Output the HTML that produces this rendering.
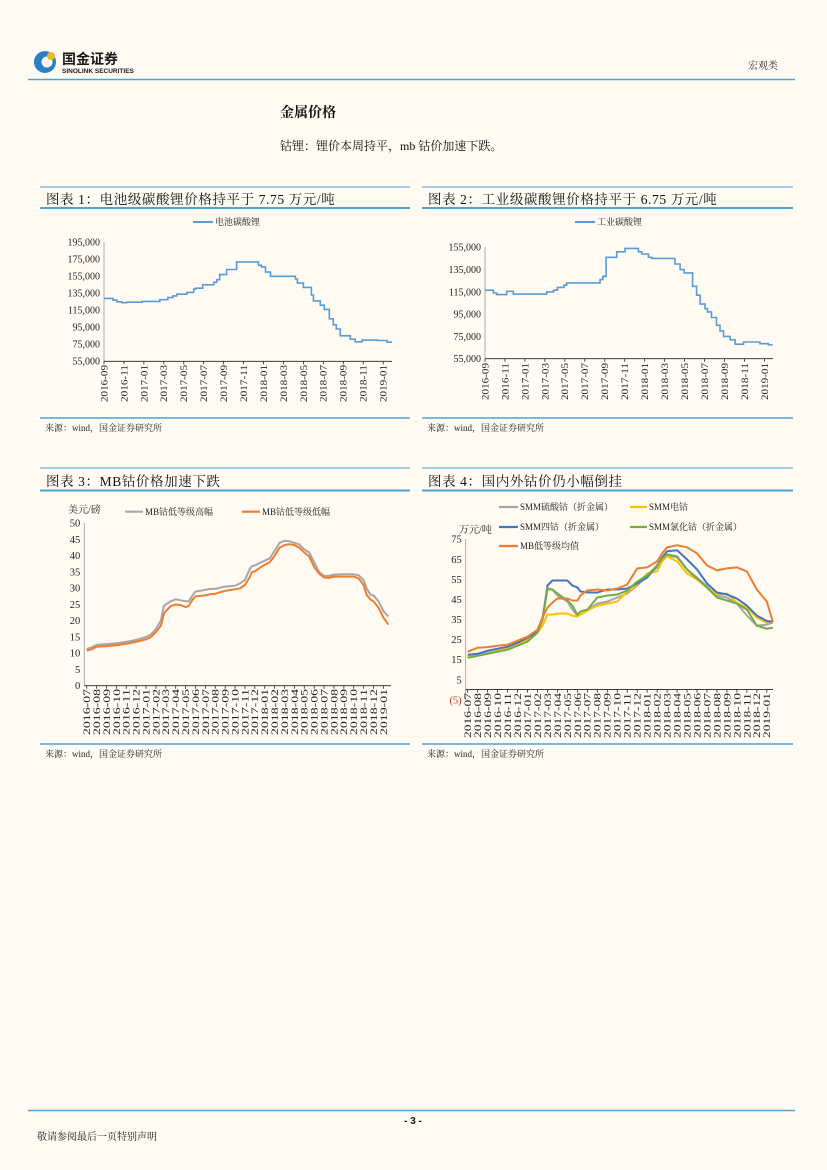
<!DOCTYPE html>
<html><head><meta charset="utf-8">
<style>
html,body{margin:0;padding:0;background:#fffbf2;}
svg{display:block;}
.cn{font-family:"Liberation Serif","Noto Serif CJK SC",serif;}
.sans{font-family:"Liberation Sans","Noto Sans CJK SC",sans-serif;}
</style></head>
<body>
<svg id="page" width="827" height="1170" viewBox="0 0 827 1170" xmlns="http://www.w3.org/2000/svg">
<rect x="0" y="0" width="827" height="1170" fill="#fffbf2"/>
<g>
  <g>
    <circle cx="45" cy="62" r="11" fill="#2b7fc4"/>
    <circle cx="47" cy="62" r="5.5" fill="#fffbf2"/>
    <circle cx="51" cy="56" r="4" fill="#f3b81c"/>
    <text x="62" y="64" class="sans" font-size="14" font-weight="bold" fill="#1a1a1a">国金证券</text>
    <text x="62" y="73" class="sans" font-size="6.5" font-weight="bold" fill="#1a1a1a">SINOLINK SECURITIES</text>
  </g>
  <text x="748" y="69" class="cn" font-size="10" fill="#333">宏观类</text>
  <line x1="28" y1="79.5" x2="795" y2="79.5" stroke="#4fa3d3" stroke-width="1.5"/>
</g>
<text x="280" y="117" class="cn" font-size="14" font-weight="bold" fill="#111">金属价格</text>
<text x="280" y="150" class="cn" font-size="12" fill="#111">钴锂：锂价本周持平，mb 钴价加速下跌。</text>

<g id="c1"></g>
<g id="c2"></g>
<g id="c3"></g>
<g id="c4"></g>

<g>
  <line x1="28" y1="1110.5" x2="795" y2="1110.5" stroke="#4fa3d3" stroke-width="1.5"/>
  <text x="413" y="1124" text-anchor="middle" class="sans" font-size="10" font-weight="bold" fill="#111">- 3 -</text>
  <text x="37" y="1140" class="cn" font-size="10" fill="#222">敬请参阅最后一页特别声明</text>
</g>
</svg>
<script>
// ---------- Chart 1 data (battery-grade lithium carbonate, step series; months since 2016-09) ----------
const c1StepMonths = [0,0.9,1.3,1.8,2.3,3.8,5.6,6.4,6.9,7.3,8.3,9,9.2,9.9,11,11.3,11.6,12.3,13.3,15.5,15.8,16.2,16.7,19.2,19.4,20,20.8,21,21.7,22.1,22.6,23,23.3,23.7,24.7,25.2,25.9,27.4,28.4];
const c1Values = [129,127,125,124,124.5,125.5,127.5,130,132,134,136,140,141,145,148,151,157,163,172,168,166,160,155,152,147,142,133,126,121,116,105,98,93,85,81,78,80,79.5,77.5];
const c1EndMonth = 28.9;
const c1YTicks = [55,75,95,115,135,155,175,195];
const c1XLabels = ["2016-09","2016-11","2017-01","2017-03","2017-05","2017-07","2017-09","2017-11","2018-01","2018-03","2018-05","2018-07","2018-09","2018-11","2019-01"];

// ---------- Chart 2 data (industrial-grade lithium carbonate) ----------
const c2StepMonths = [0,0.84,1.17,2.17,2.84,6.18,6.85,7.25,7.92,8.19,11.53,11.8,12.13,13.2,14.03,15.37,15.7,16.37,16.7,19.04,19.55,19.95,20.8,21.2,21.55,22.04,22.28,22.7,23.2,23.55,23.9,24.56,25.06,25.9,27.56,28.4];
const c2Values = [116.5,114,112.5,115.5,113,115,116.5,119,121,123,126,129,146,151,154,151,149,146,145,140,135,132,120,112,104,100,97,92,85,80,75,72,68,70,68.5,67.5];
const c2EndMonth = 28.83;
const c2YTicks = [55,75,95,115,135,155];
const c2XLabels = ["2016-09","2016-11","2017-01","2017-03","2017-05","2017-07","2017-09","2017-11","2018-01","2018-03","2018-05","2018-07","2018-09","2018-11","2019-01"];

// ---------- Chart 3 data (MB cobalt, USD/lb; months since 2016-07) ----------
const c3Months = [0,0.5,1,2,3,4,5,6,6.5,7,7.5,7.8,8,8.5,9,9.5,10,10.3,10.7,11,12,12.5,13,13.5,14,15,15.5,16,16.5,16.7,17,17.5,18,18.5,19,19.5,20,20.5,21,21.5,22,22.5,23,23.5,24,24.5,25,26,27,27.5,28,28.3,28.7,29,29.5,30,30.5];
const c3High = [11.3,11.8,12.6,12.8,13.1,13.5,14.1,15,15.8,17.5,20,24.5,25,26,26.6,26.3,26,26,27.8,29,29.5,29.8,29.8,30.2,30.5,30.8,31.5,32.5,36,36.8,37,37.8,38.5,39.2,41.5,44,44.6,44.5,44,43.5,42,41,38,35,33.8,33.8,34.2,34.3,34.3,34,32.5,30,28,27.8,26,23,21.3];
const c3Low = [10.8,11.2,12,12.2,12.5,12.9,13.5,14.3,15,16.5,18.5,22,23,24.5,25,24.8,24.2,24.5,26.5,27.5,27.8,28.2,28.3,28.8,29.2,29.7,30,31,33.5,35,35.2,36.3,37.2,38,40,42.5,43.3,43.6,43.3,42.5,41,39.8,36.5,34.5,33.3,33.2,33.6,33.6,33.6,33,31,28,26.5,26,24,21,18.8];
const c3YTicks = [0,5,10,15,20,25,30,35,40,45,50];
const c3XLabels = ["2016-07","2016-08","2016-09","2016-10","2016-11","2016-12","2017-01","2017-02","2017-03","2017-04","2017-05","2017-06","2017-07","2017-08","2017-09","2017-10","2017-11","2017-12","2018-01","2018-02","2018-03","2018-04","2018-05","2018-06","2018-07","2018-08","2018-09","2018-10","2018-11","2018-12","2019-01"];

// ---------- Chart 4 data (10k CNY/t; months since 2016-07) ----------
const c4Months = [0,1,2,3,4,5,6,7,7.5,8,8.5,9,10,10.5,11,11.3,12,13,14,15,16,17,18,19,19.5,20,21,22,23,24,25,26,27,28,29,30,30.6];
const c4Sulfate = [16.5,17.5,18.5,19.5,20.5,22,24.5,29,36,50,50,47,44,40,37,39,40,43,44,46,48,52,57,61,64,67,66,60,56,51.5,47,46,43,37,32,32.5,33.5];
const c4Electro = [16.5,17,18,19.5,20.5,22.5,25,28.5,32,37.5,37.5,38,38,37,36.5,37.5,39.5,42,43,44,49,52.5,58,59,64,66.5,64,58,55,51,47.5,48,43.5,41,36,33.5,34];
const c4Tetroxide = [17.5,18,19.5,20.5,21.5,23.5,26,29,35,52,54.5,54.5,54.5,52,51,49,48.5,48.5,50,50,50.5,53,56,62,66,69,69.5,65,60,53,48.5,47.5,45.5,42,37,34.3,34];
const c4Chloride = [16,17,18,19,20,22,24,28.5,35,50.5,50,48,44.5,42,37.5,39,40,46,47,47.5,49.5,54,57,62,65.5,67.5,66.5,60,55.5,51,46,44.5,43,40,32,30.5,31];
const c4MbAvg = [19,21,21.3,22,22.5,24.5,26.5,30,36,41,43.5,45.5,45.5,44.5,44.5,47,49.5,50,49.5,50.5,52.5,60.5,61,64,68,71,72,71,68,62,59.5,60.5,61,59,50,44,34];
const c4YTicks = [-5,5,15,25,35,45,55,65,75];
const c4XLabels = c3XLabels;

const NS = "http://www.w3.org/2000/svg";
function mk(parent, tag, attrs, txt){
  const e = document.createElementNS(NS, tag);
  for (const k in attrs) e.setAttribute(k, attrs[k]);
  if (txt !== undefined) e.textContent = txt;
  parent.appendChild(e);
  return e;
}
const BLUE = "#4fa3d3";
const SERIF = '"Liberation Serif","Noto Serif CJK SC",serif';

function frame(g, x0, x1, topY, titleY, ulY, srcLineY, srcY, title){
  let e;
  e = mk(g, "line", {x1:x0, y1:topY, x2:x1, y2:topY, stroke:BLUE, "stroke-width":1});
  
  
  e = mk(g, "text", {x:x0+6, y:titleY, "font-family":SERIF, "font-size":13.5, fill:"#111", "letter-spacing":"0.6"}, title);
  
  
  e = mk(g, "line", {x1:x0, y1:ulY, x2:x1, y2:ulY, stroke:BLUE, "stroke-width":2});
  
  
  e = mk(g, "line", {x1:x0, y1:srcLineY, x2:x1, y2:srcLineY, stroke:BLUE, "stroke-width":1.5});
  
  
  e = mk(g, "text", {x:x0+5, y:srcY, "font-family":SERIF, "font-size":9, fill:"#222"}, "来源：wind，国金证券研究所");
  
  
}

function axes(g, o){
  let e;
  e = mk(g, "line", {x1:o.x0, y1:o.yTop, x2:o.x0, y2:o.yBase, stroke:"#999", "stroke-width":0.8});
  
  
  e = mk(g, "line", {x1:o.x0, y1:o.axisY, x2:o.xr, y2:o.axisY, stroke:"#222", "stroke-width":0.9});
  
  
  o.yTicks.forEach(v=>{
    const t = mk(g, "text", {x:o.x0-4, y:o.ys(v)+3.4, "text-anchor":"end", "font-family":SERIF, "font-size":o.yFont||9, fill: v<0 ? "#c0392b" : "#222"}, o.fmt(v));
    
    
  });
  o.xLabels.forEach((lab,i)=>{
    const m = i*o.labelStep;
    const x = o.xs(m);
    const tk = mk(g, "line", {x1:x, y1:o.axisY, x2:x, y2:o.axisY+3, stroke:"#222", "stroke-width":0.8});
    
    
    const t = mk(g, "text", {x:0, y:0, transform:`translate(${x+3.4},${o.xLabelY}) rotate(-90)`, "text-anchor":"end", "font-family":SERIF, "font-size":9.5, textLength:o.labelLen, lengthAdjust:"spacingAndGlyphs", fill:"#222"}, lab);
    
    
  });
}
function stepPath(months, vals, endM, xs, ys){
  let d = `M${xs(months[0]).toFixed(1)},${ys(vals[0]).toFixed(1)}`;
  for (let i=1;i<months.length;i++){
    d += ` H${xs(months[i]).toFixed(1)} V${ys(vals[i]).toFixed(1)}`;
  }
  d += ` H${xs(endM).toFixed(1)}`;
  return d;
}
function linePath(months, vals, xs, ys){
  return months.map((m,i)=>(i?"L":"M")+xs(m).toFixed(1)+","+ys(vals[i]).toFixed(1)).join(" ");
}
function legend(g, x1, x2, y, color, label, w){
  let e = mk(g, "line", {x1:x1, y1:y, x2:x2, y2:y, stroke:color, "stroke-width":w||2});
  
  
  e = mk(g, "text", {x:x2+2, y:y+3.2, "font-family":SERIF, "font-size":9, fill:"#222"}, label);
  
  
}
const kfmt = v => (v*1000).toLocaleString("en-US");

// Chart 1
(function(){
  const g = document.getElementById("c1");
  frame(g, 40, 410, 187, 204, 208, 418, 431, "图表 1：电池级碳酸锂价格持平于 7.75 万元/吨");
  const xs = m => 104 + m*9.97, ys = v => 242.3 + (195-v)*0.85;
  axes(g, {x0:104, xr:392, yTop:242, yBase:361.3, axisY:361.3, xs, ys, yTicks:c1YTicks, fmt:kfmt, xLabels:c1XLabels, labelStep:2, xLabelY:365, yFont:10, labelLen:37});
  legend(g, 193, 213, 222, "#5b9bd5", "电池碳酸锂");
  const p = mk(g, "path", {d:stepPath(c1StepMonths, c1Values, c1EndMonth, xs, ys), fill:"none", stroke:"#5b9bd5", "stroke-width":1.6});
  
  
})();

// Chart 2
(function(){
  const g = document.getElementById("c2");
  frame(g, 422, 793, 187, 204, 208, 418, 431, "图表 2：工业级碳酸锂价格持平于 6.75 万元/吨");
  const xs = m => 485 + m*9.98, ys = v => 247.3 + (155-v)*1.114;
  axes(g, {x0:485, xr:773, yTop:247, yBase:358.7, axisY:358.7, xs, ys, yTicks:c2YTicks, fmt:kfmt, xLabels:c2XLabels, labelStep:2, xLabelY:363, yFont:10, labelLen:37});
  legend(g, 575, 595, 222, "#5b9bd5", "工业碳酸锂");
  const p = mk(g, "path", {d:stepPath(c2StepMonths, c2Values, c2EndMonth, xs, ys), fill:"none", stroke:"#5b9bd5", "stroke-width":1.6});
  
  
})();

// Chart 3
(function(){
  const g = document.getElementById("c3");
  frame(g, 40, 410, 468, 486, 490.5, 744, 757, "图表 3：MB钴价格加速下跌");
  const xs = m => 86.7 + m*9.89, ys = v => 685.7 - v*3.248;
  axes(g, {x0:84.3, xr:391, yTop:523, yBase:685.7, axisY:685.7, xs, ys, yTicks:c3YTicks, fmt:v=>String(v), xLabels:c3XLabels, labelStep:1, xLabelY:689, yFont:10.5, labelLen:46});
  let e = mk(g, "text", {x:68, y:513, "font-family":SERIF, "font-size":10, fill:"#222"}, "美元/磅");
  
  
  legend(g, 125, 143, 511.7, "#a6a6a6", "MB钴低等级高幅", 2.2);
  legend(g, 242, 260, 511.7, "#ed7d31", "MB钴低等级低幅", 2.2);
  let p = mk(g, "path", {d:linePath(c3Months, c3High, xs, ys), fill:"none", stroke:"#a6a6a6", "stroke-width":2});
  
  
  p = mk(g, "path", {d:linePath(c3Months, c3Low, xs, ys), fill:"none", stroke:"#ed7d31", "stroke-width":2});
  
  
})();

// Chart 4
(function(){
  const g = document.getElementById("c4");
  frame(g, 422, 793, 468, 486, 490.5, 744, 757, "图表 4：国内外钴价仍小幅倒挂");
  const xs = m => 467.7 + m*9.97, ys = v => 689.9 - v*2.008;
  axes(g, {x0:465.7, xr:773, yTop:539, yBase:700, axisY:689.6, xs, ys, yTicks:c4YTicks, fmt:v=> v<0 ? "("+(-v)+")" : String(v), xLabels:c4XLabels, labelStep:1, xLabelY:693, yFont:10.5, labelLen:45});
  let e = mk(g, "text", {x:459, y:533, "font-family":SERIF, "font-size":10, fill:"#222"}, "万元/吨");
  
  
  legend(g, 499, 518, 507, "#a6a6a6", "SMM硫酸钴（折金属）", 2.2);
  legend(g, 630, 647, 507, "#ffc000", "SMM电钴", 2.2);
  legend(g, 499, 518, 527, "#4472c4", "SMM四钴（折金属）", 2.2);
  legend(g, 630, 647, 527, "#70ad47", "SMM氯化钴（折金属）", 2.2);
  legend(g, 499, 518, 546, "#ed7d31", "MB低等级均值", 2.2);
  const series = [
    [c4Sulfate, "#a6a6a6", "smm-cobalt-sulfate-line"],
    [c4Electro, "#ffc000", "smm-electrolytic-cobalt-line"],
    [c4Tetroxide, "#4472c4", "smm-cobalt-tetroxide-line"],
    [c4Chloride, "#70ad47", "smm-cobalt-chloride-line"],
    [c4MbAvg, "#ed7d31", "mb-low-grade-average-line"]
  ];
  series.forEach(s=>{
    const p = mk(g, "path", {d:linePath(c4Months, s[0], xs, ys), fill:"none", stroke:s[1], "stroke-width":2});
    
    
  });
})();
</script>
</body></html>
